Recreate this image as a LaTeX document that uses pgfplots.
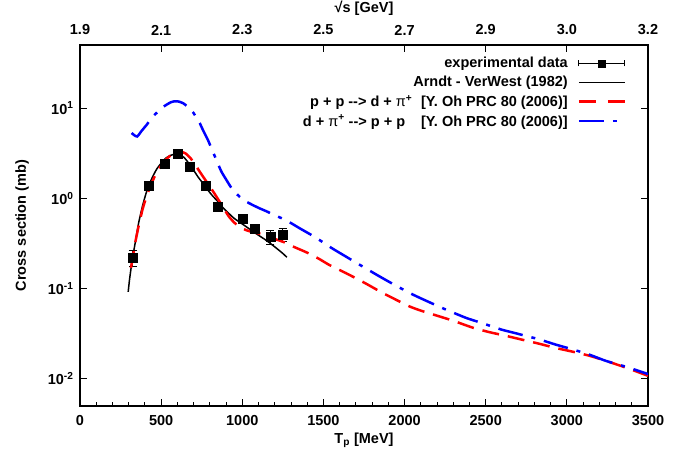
\documentclass[border=0pt]{standalone}
\usepackage{fontspec}
\setmainfont{Liberation Sans}
\usepackage{pgfplots}
\pgfplotsset{compat=1.18}
\usepackage{pgfplotstable}
\newcommand\f{\fontsize{14.5bp}{17bp}\selectfont\bfseries}

\pgfplotstableread{
x y e
324 0.22 0.045
424 1.38 0.12
521 2.43 0.2
603 3.10 0.25
677 2.25 0.2
773 1.39 0.12
849 0.80 0.08
1000 0.60 0.06
1076 0.46 0.05
1173 0.375 0.065
1248 0.40 0.065
}\expdata

\pgfplotstableread{
x y
297 0.092
305 0.125
315 0.17
325 0.225
340 0.32
360 0.52
385 0.82
410 1.18
440 1.62
470 2.07
500 2.45
530 2.8
560 3.0
590 3.1
610 3.08
640 2.85
670 2.45
700 2.05
730 1.7
760 1.45
790 1.22
820 1.05
850 0.92
880 0.79
910 0.70
950 0.6
1000 0.52
1050 0.45
1100 0.39
1150 0.34
1200 0.29
1250 0.245
1275 0.222
}\arndt

\pgfplotstableread{
x y
314 0.17
325 0.22
340 0.32
360 0.48
385 0.75
410 1.05
440 1.45
470 1.9
500 2.3
530 2.7
560 3.0
590 3.2
620 3.28
650 3.15
680 2.8
710 2.35
740 1.95
770 1.62
800 1.35
830 1.12
860 0.92
890 0.75
920 0.62
950 0.54
990 0.475
1030 0.44
1070 0.42
1110 0.405
1150 0.38
1190 0.36
1230 0.34
1270 0.32
1312 0.293
1400 0.25
1476 0.212
1538 0.182
1640 0.148
1741 0.119
1800 0.104
1862 0.09
1930 0.078
2030 0.0635
2100 0.057
2171 0.052
2300 0.044
2418 0.037
2520 0.033
2623 0.030
2730 0.027
2829 0.0245
2930 0.022
3035 0.020
3140 0.018
3241 0.0158
3370 0.0132
3500 0.0108
}\ohpp

\pgfplotstableread{
x y
318 5.3
335 5.0
353 4.85
380 5.6
410 6.5
445 7.9
482 9.2
510 10.2
533 10.9
560 11.6
584 11.9
610 11.8
636 11.3
660 10.5
677 9.9
700 8.8
720 7.7
738 6.8
760 5.6
789 4.4
815 3.4
841 2.65
870 2.0
902 1.6
940 1.25
984 1.04
1020 0.93
1066 0.84
1110 0.77
1148 0.72
1200 0.65
1271 0.57
1350 0.47
1450 0.37
1550 0.282
1650 0.22
1750 0.172
1850 0.135
1950 0.107
2050 0.086
2150 0.071
2250 0.059
2377 0.0475
2450 0.043
2521 0.039
2600 0.035
2685 0.032
2760 0.0295
2829 0.0274
2930 0.024
3035 0.0212
3140 0.0185
3241 0.0158
3370 0.0135
3500 0.0113
}\ohdpi

\begin{document}
\begin{tikzpicture}
\useasboundingbox (0,0) rectangle (694bp,459bp);
\begin{axis}[
  at={(80bp,53bp)}, anchor=south west,
  width=568bp, height=361bp, scale only axis,
  xmin=0, xmax=3500,
  ymode=log, log basis y=10, ymin=0.005, ymax=50,
  xtick={0,500,...,3500}, minor x tick num=4,
  xtick pos=lower, ytick pos=both,
  ytick={0.01,0.1,1,10},
  yticklabel={10\textsuperscript{\pgfmathparse{int(round(\tick))}\pgfmathresult}},
  tick align=inside,
  major tick length=7bp, minor tick length=4bp,
  every tick/.style={black, line width=0.9bp},
  axis line style={line width=1.2bp},
  /pgf/number format/1000 sep={},
  /pgf/number format/assume math mode=true,
  tick label style={font=\f},
  xticklabel style={anchor=center, yshift=-15bp},
  yticklabel style={anchor=east, xshift=-3bp},
  label style={font=\f},
  xlabel={T\textsubscript{p} [MeV]},
  xlabel style={at={(axis description cs:0.5,-0.094)}, anchor=center},
  ylabel={Cross section (mb)},
  ylabel style={at={(axis description cs:-0.102,0.5)}, anchor=center},
  legend plot pos=right,
  legend cell align=right,
  legend style={font=\f, draw=none, fill=none,
    at={(axis description cs:0.962,0.972)}, anchor=north east,
    row sep=3bp, inner sep=0pt, column sep=8bp},
]
\addplot[black, only marks, mark=square*, mark size=4.5bp,
  error bars/.cd, y dir=both, y explicit,
  error bar style={black, line width=1bp},
  error mark options={rotate=90, mark size=4bp, line width=1bp},
  /pgfplots/legend image code/.code={%
  \draw[black, line width=1bp] (0bp,0bp) -- (46bp,0bp) (0bp,-3bp) -- (0bp,3bp) (46bp,-3bp) -- (46bp,3bp);
  \fill[black] (19.5bp,-3.5bp) rectangle (26.5bp,3.5bp);}]
  table[x=x, y=y, y error=e]{\expdata};
\addlegendentry{experimental data}
\addplot[black, line width=1.5bp, smooth, tension=0.4,
  legend image code/.code={\draw[black, line width=1.5bp] (0bp,0bp) -- (46bp,0bp);}]
  table[x=x,y=y]{\arndt};
\addlegendentry{Arndt - VerWest (1982)}
\addplot[red, line width=2.5bp, dash pattern=on 17bp off 9bp, smooth, tension=0.4,
  legend image code/.code={\draw[red, line width=2.5bp, dash pattern=on 17bp off 12bp] (0bp,0bp) -- (46bp,0bp);}]
  table[x=x,y=y]{\ohpp};
\addlegendentry{p + p -{}-> d + {\mdseries π}\textsuperscript{+}\hspace{0.6em}[Y. Oh PRC 80 (2006)]}
\addplot[blue, line width=2.5bp, dash pattern=on 25bp off 9bp on 4bp off 9bp, smooth, tension=0.4,
  legend image code/.code={\draw[blue, line width=2.5bp, dash pattern=on 25bp off 9bp on 4bp off 9bp] (0bp,0bp) -- (46bp,0bp);}]
  table[x=x,y=y]{\ohdpi};
\addlegendentry{d + {\mdseries π}\textsuperscript{+} -{}-> p + p\hspace{1.1em}[Y. Oh PRC 80 (2006)]}
\end{axis}
\begin{axis}[
  at={(80bp,53bp)}, anchor=south west,
  width=568bp, height=361bp, scale only axis,
  xmin=0, xmax=3500, ymin=0, ymax=1,
  axis x line*=top, axis y line=none,
  xtick={0,500,...,3500},
  xticklabels={1.9,2.1,2.3,2.5,2.7,2.9,3.0,3.2},
  minor x tick num=0,
  tick align=inside, major tick length=7bp,
  every tick/.style={black, line width=0.9bp},
  axis line style={line width=1.2bp},
  tick label style={font=\f},
  xticklabel style={anchor=center, yshift=15bp},
  label style={font=\f},
  xlabel={√s [GeV]},
  xlabel style={at={(axis description cs:0.5,1.102)}, anchor=center},
]
\end{axis}
\end{tikzpicture}
\end{document}
